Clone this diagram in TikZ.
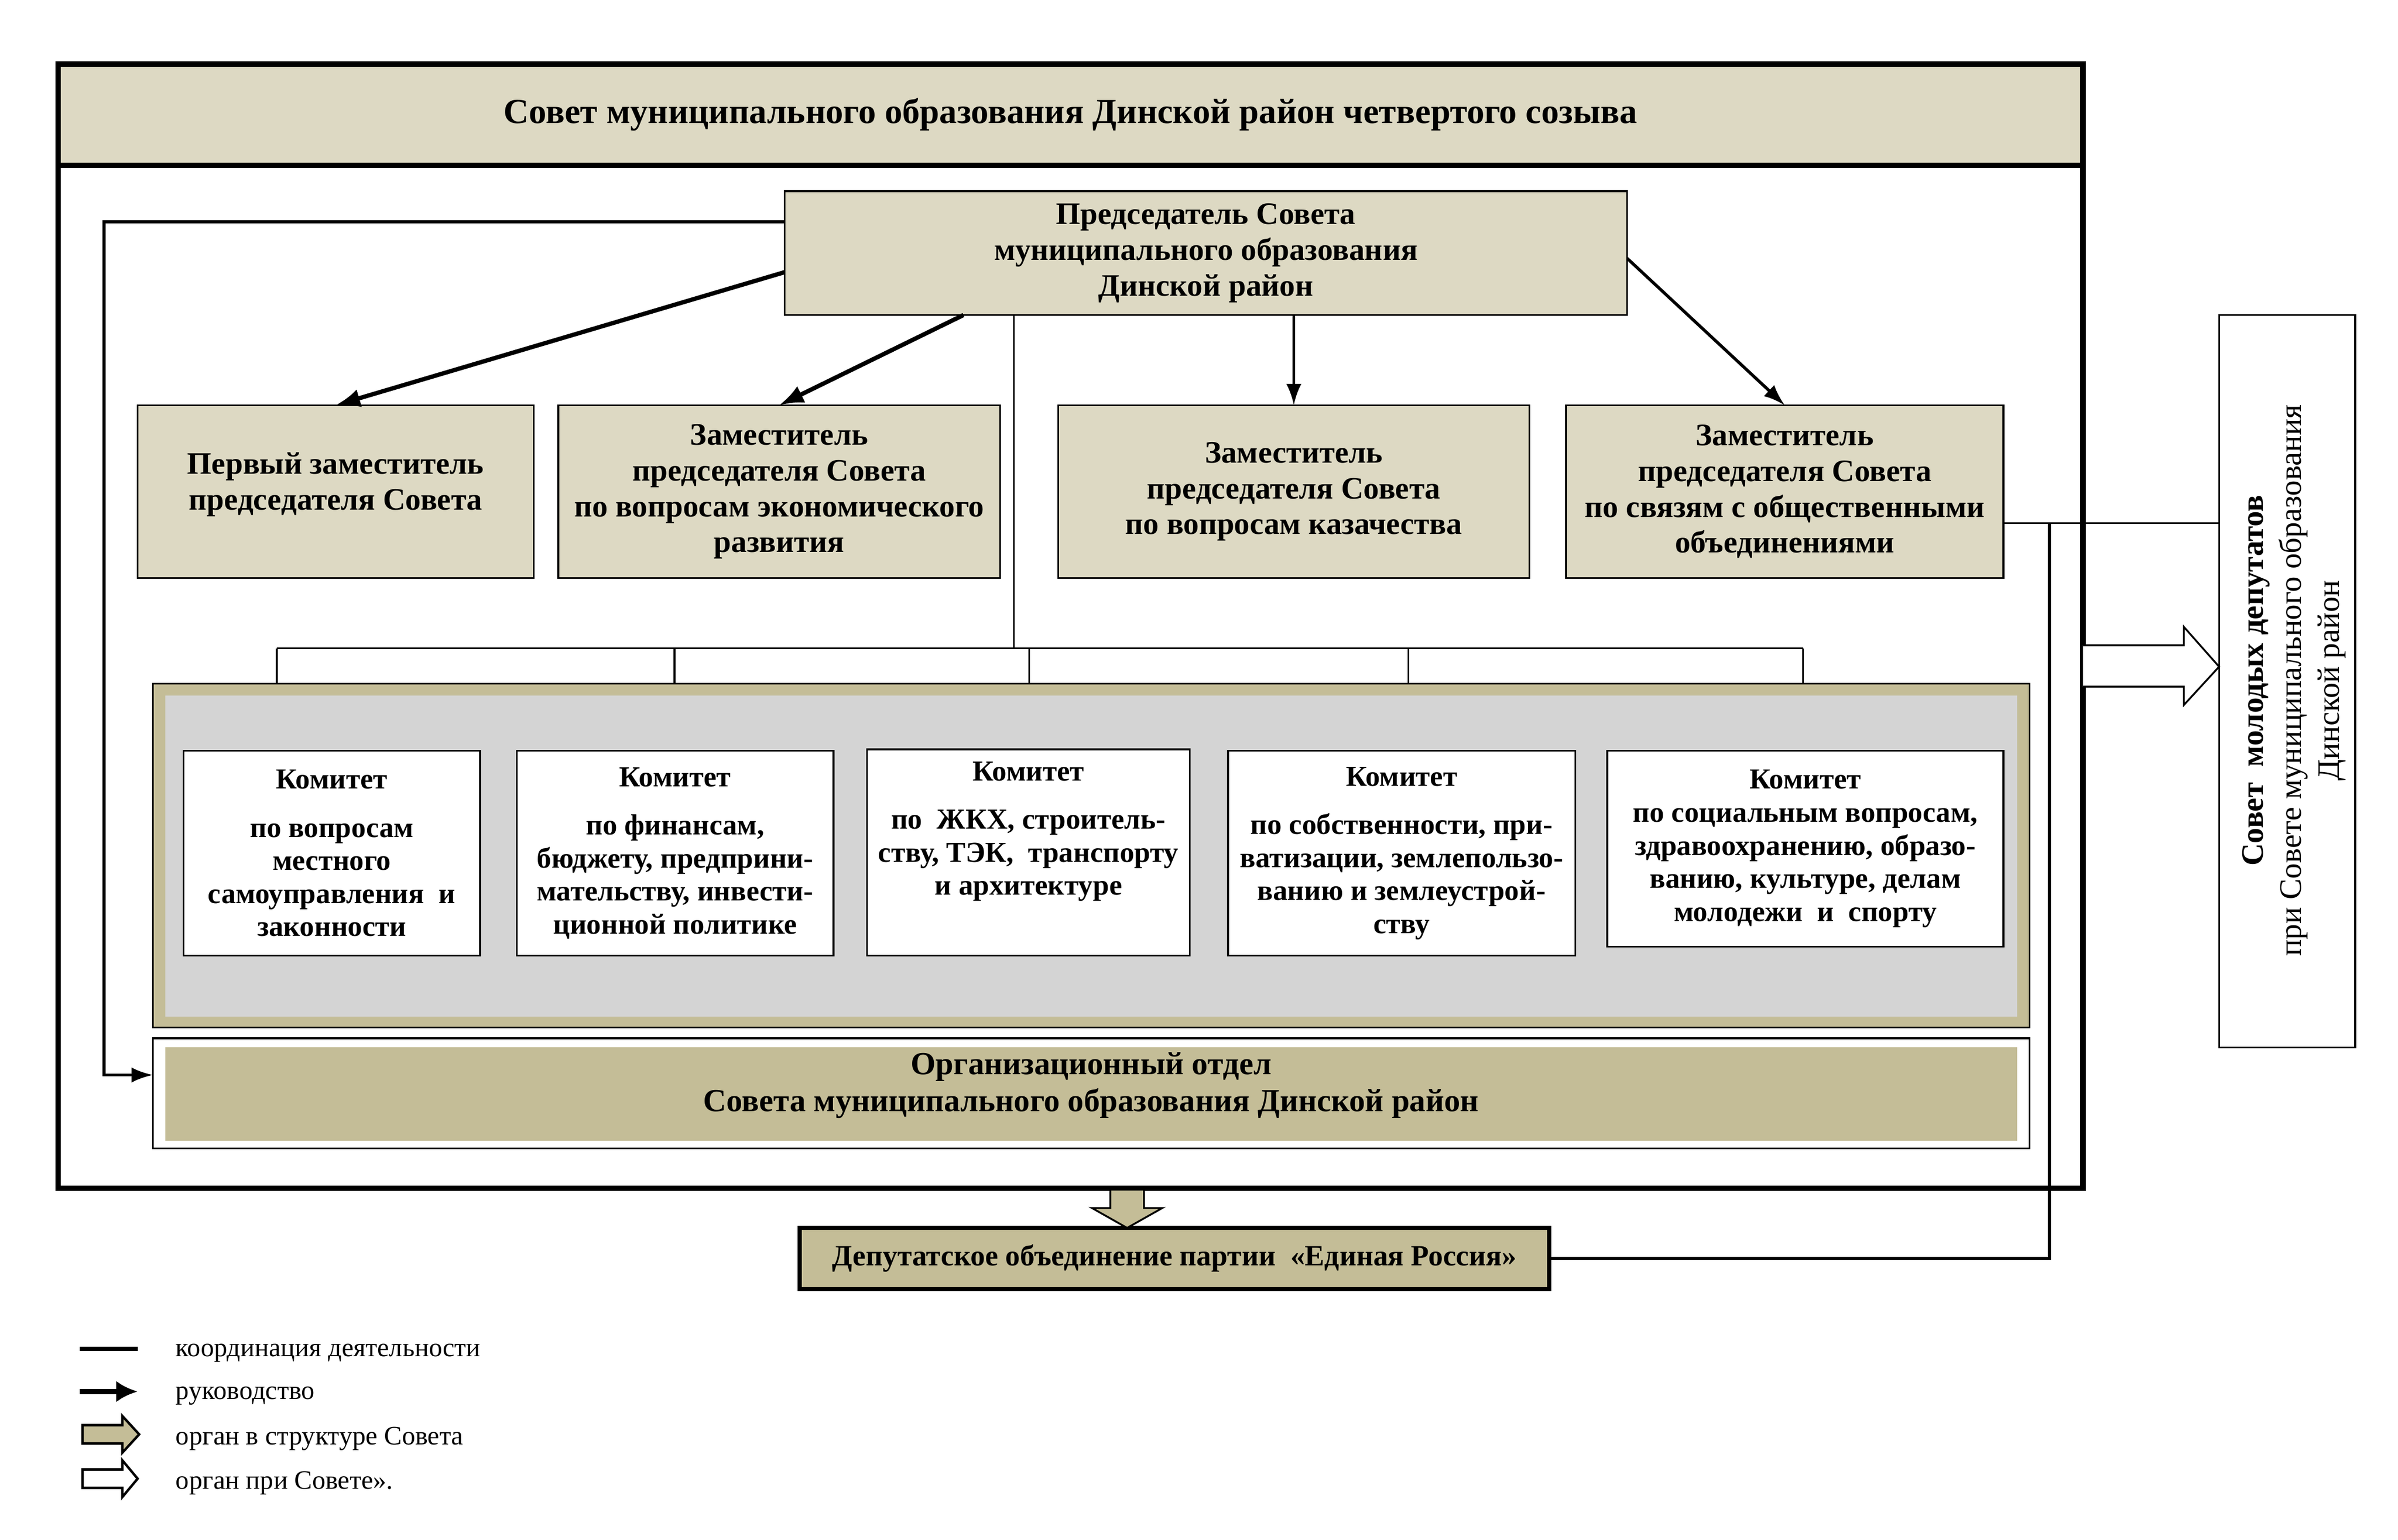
\documentclass[tikz,border=0pt]{standalone}
\usepackage{fontspec}
\setmainfont{Liberation Serif}
\usetikzlibrary{arrows.meta,calc}
\definecolor{beige}{HTML}{DDD9C3}
\definecolor{tanc}{HTML}{C4BD97}
\definecolor{greybg}{HTML}{D4D4D4}
\newcommand\bx[7]{\node[#6, minimum width={(#4-#2)*0.5pt}, minimum height={(#5-#3)*0.5pt}] (#1) at ({(#2+#4)/2},{(#3+#5)/2}) {#7};}
\tikzset{
  base/.style={inner sep=0pt, outer sep=0pt, align=center},
  depbox/.style={base, draw, line width=0.6pt, fill=beige, font=\bfseries\fontsize{10.2}{11.7}\selectfont},
  combox/.style={base, draw, line width=0.6pt, fill=white, font=\bfseries\fontsize{9.5}{10.8}\selectfont},
  lead/.style={line width=1pt, -{Latex[length=7pt,width=5pt]}},
  leadthick/.style={line width=1.4pt, -{Latex[length=8pt,width=6pt]}},
  coordl/.style={line width=0.6pt},
  legtext/.style={base, anchor=west, font=\fontsize{8.7}{10}\selectfont},
}
\begin{document}
\begin{tikzpicture}[x=0.5pt,y=-0.5pt]
\useasboundingbox (0,0) rectangle (1568,1007);
% outer frame
\bx{frame}{38}{42}{1362}{777}{base, draw, line width=1.8pt}{}
\bx{title}{38}{42}{1362}{108}{base, draw, line width=1.8pt, fill=beige, font=\bfseries\fontsize{11.5}{13}\selectfont}{Совет муниципального образования Динской район четвертого созыва}
% chairman
\bx{chair}{513}{125}{1064}{206}{depbox}{Председатель Совета\\муниципального образования\\Динской район}
% deputies
\bx{d1}{90}{265}{349}{378}{depbox}{Первый заместитель\\председателя Совета\\[-5pt]}
\bx{d2}{365}{265}{654}{378}{depbox}{Заместитель\\председателя Совета\\по вопросам экономического\\развития}
\bx{d3}{692}{265}{1000}{378}{depbox}{Заместитель\\председателя Совета\\по вопросам казачества}
\bx{d4}{1024}{265}{1310}{378}{depbox}{Заместитель\\председателя Совета\\по связям с общественными\\объединениями}
% committee container
\bx{cont}{100}{447}{1327}{672}{base, draw, line width=0.5pt, fill=tanc}{}
\bx{contin}{108}{455}{1319}{665}{base, fill=greybg}{}
\bx{k1}{120}{491}{314}{625}{combox}{Комитет\\[5pt]по вопросам\\местного\\самоуправления\ \ и\\законности}
\bx{k2}{338}{491}{545}{625}{combox}{Комитет\\[5pt]по финансам,\\бюджету, предприни-\\мательству, инвести-\\ционной политике}
\bx{k3}{567}{490}{778}{625}{combox}{Комитет\\[5pt]по\ \ ЖКХ, строитель-\\ству, ТЭК,\ \ транспорту\\и архитектуре\\[5pt]}
\bx{k4}{803}{491}{1030}{625}{combox}{Комитет\\[5pt]по собственности, при-\\ватизации, землепользо-\\ванию и землеустрой-\\ству}
\bx{k5}{1051}{491}{1310}{619}{combox}{Комитет\\по социальным вопросам,\\здравоохранению, образо-\\ванию, культуре, делам\\молодежи\ \ и\ \ спорту}
% organisational department
\bx{org}{100}{679}{1327}{751}{base, draw, line width=0.6pt, fill=white}{}
\bx{orgin}{108}{685}{1319}{746}{base, fill=tanc, font=\bfseries\fontsize{10.5}{12}\selectfont}{Организационный отдел\\Совета муниципального образования Динской район\\[-4pt]}
% party
\bx{party}{523}{803}{1013}{843}{base, draw, line width=1.4pt, fill=tanc, font=\bfseries\fontsize{9.6}{11}\selectfont}{Депутатское объединение партии\ \ «Единая Россия»}
% young deputies
\bx{young}{1451}{206}{1540}{685}{base, draw, line width=0.6pt, fill=white}{}
\node[base, rotate=90, font=\fontsize{10.2}{12.5}\selectfont] (youngtxt) at (1500,445) {{\bfseries Совет\ \ молодых депутатов}\\при Совете муниципального образования\\Динской район};
% leadership arrows
\draw[leadthick] (chair.west |- 0,178) -- (d1.north);
\draw[leadthick] (chair.south -| 630,0) -- (d2.north);
\draw[lead] (chair.south -| d3.north) -- (d3.north);
\draw[lead] (chair.east |- 0,169) -- (d4.north);
\coordinate (lc1) at (68,145);
\coordinate (lc2) at (68,703);
\draw[lead] (chair.west |- lc1) -- (lc1) -- (lc2) -- (org.west |- lc2);
% coordination bus to committees
\coordinate (bus) at (663,424);
\draw[coordl] (chair.south -| bus) -- (bus);
\coordinate (busl) at (181,424);
\coordinate (busr) at (1179,424);
\draw[coordl] (busl) -- (busr);
\foreach \xx in {181,441,673,921,1179} {
  \draw[coordl] (\xx,424) -- (cont.north -| \xx,0);
}
% coordination to young council and party
\coordinate (cj) at (1340,342);
\coordinate (cp) at (1340,823);
\draw[coordl] (d4.east |- cj) -- (young.west |- cj);
\draw[line width=1pt] (cj) -- (cp) -- (party.east |- cp);
% hollow block arrow to young council
\draw[line width=0.6pt, fill=white] (frame.east |- 0,422) -- (1428,422) -- (1428,410) -- (young.west |- 0,436) -- (1428,461) -- (1428,449) -- (frame.east |- 0,449);
% tan block arrow down to party
\draw[line width=0.6pt, fill=tanc] (726,778) -- (748,778) -- (748,790) -- (760,790) -- (party.north -| 737,0) -- (714,790) -- (726,790) -- cycle;
% legend
\draw[line width=1.3pt] (52,882) -- (90,882);
\node[legtext] (l1) at (115,885) {координация деятельности};
\draw[line width=1.8pt, -{Latex[length=7pt,width=7pt]}] (52,910) -- (90,910);
\node[legtext] (l2) at (115,913) {руководство};
\draw[line width=0.8pt, fill=tanc] (54,932) -- (80,932) -- (80,926) -- (91,938) -- (80,950) -- (80,944) -- (54,944) -- cycle;
\node[legtext] (l3) at (115,941) {орган в структуре Совета};
\draw[line width=0.8pt, fill=white] (54,961) -- (80,961) -- (80,955) -- (90,967) -- (80,979) -- (80,973) -- (54,973) -- cycle;
\node[legtext] (l4) at (115,970) {орган при Совете».};
\end{tikzpicture}
\end{document}
